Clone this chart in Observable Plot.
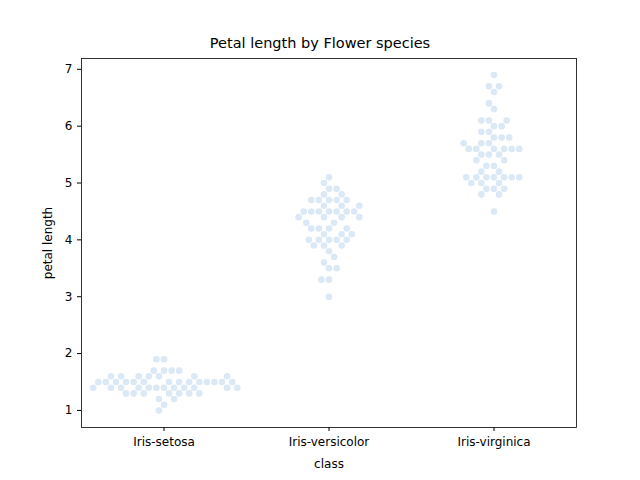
<!DOCTYPE html>
<html>
<head>
<meta charset="utf-8">
<script src="https://cdn.jsdelivr.net/npm/d3@7"></script>
<script src="https://cdn.jsdelivr.net/npm/@observablehq/plot@0.6"></script>
<style>
body { margin: 0; background: #fff; font-family: "DejaVu Sans", sans-serif; }
#title { height: 36px; width: 640px; font-size: 14.5px; line-height: 16px; position: relative; }
#title span { position: absolute; left: 0; right: 0; top: 35px; text-align: center; }
#wrap { width: 640px; }
</style>
</head>
<body>
<div id="wrap"></div>
<script>
// iris petal lengths per species
var classes = ["Iris-setosa", "Iris-versicolor", "Iris-virginica"];
var setosa = [1.4,1.4,1.3,1.5,1.4,1.7,1.4,1.5,1.4,1.5,1.5,1.6,1.4,1.1,1.2,1.5,1.3,1.4,1.7,1.5,1.7,1.5,1.0,1.7,1.9,1.6,1.6,1.5,1.4,1.6,1.6,1.5,1.5,1.4,1.5,1.2,1.3,1.5,1.3,1.5,1.3,1.3,1.3,1.6,1.9,1.4,1.6,1.4,1.5,1.4];
var versicolor = [4.7,4.5,4.9,4.0,4.6,4.5,4.7,3.3,4.6,3.9,3.5,4.2,4.0,4.7,3.6,4.4,4.5,4.1,4.5,3.9,4.8,4.0,4.9,4.7,4.3,4.4,4.8,5.0,4.5,3.5,3.8,3.7,3.9,5.1,4.5,4.5,4.7,4.4,4.1,4.0,4.4,4.6,4.0,3.3,4.2,4.2,4.2,4.3,3.0,4.1];
var virginica = [6.0,5.1,5.9,5.6,5.8,6.6,4.5,6.3,5.8,6.1,5.1,5.3,5.5,5.0,5.1,5.3,5.5,6.7,6.9,5.0,5.7,4.9,6.7,4.9,5.7,6.0,4.8,4.9,5.6,5.8,6.1,6.4,5.6,5.1,5.6,6.1,5.6,5.5,4.8,5.4,5.6,5.1,5.1,5.9,5.7,5.2,5.0,5.2,5.4,5.1];
var yTicks = [1, 2, 3, 4, 5, 6, 7];

var data = [];
[setosa, versicolor, virginica].forEach(function (vals, i) {
  vals.forEach(function (v) { data.push({cls: classes[i], petal: v}); });
});

var wrap = document.getElementById("wrap");
var t = document.createElement("div");
t.id = "title";
t.innerHTML = "<span>Petal length by Flower species</span>";
wrap.appendChild(t);

var plot = Plot.plot({
  width: 640,
  height: 444,
  marginTop: 22,
  marginBottom: 53,
  marginLeft: 80,
  marginRight: 64,
  style: {fontFamily: "DejaVu Sans, sans-serif", fontSize: "12px", color: "#000"},
  fx: {domain: classes, padding: 0, label: "class", labelAnchor: "center", axis: "bottom", tickSize: 4, tickPadding: 6, labelOffset: 40},
  y: {domain: [0.7, 7.19], ticks: yTicks, tickFormat: "d", label: "petal length", labelAnchor: "center", labelArrow: "none", tickSize: 4, labelOffset: 38},
  marks: [
    Plot.frame({facet: "super", stroke: "#000", strokeWidth: 0.8}),
    Plot.dot(data, Plot.dodgeX("middle", {fx: "cls", y: "petal", r: 3.3, padding: 0.6, fill: "#dbe8f6", stroke: "none"}))
  ]
});
wrap.appendChild(plot);
</script>
</body>
</html>
